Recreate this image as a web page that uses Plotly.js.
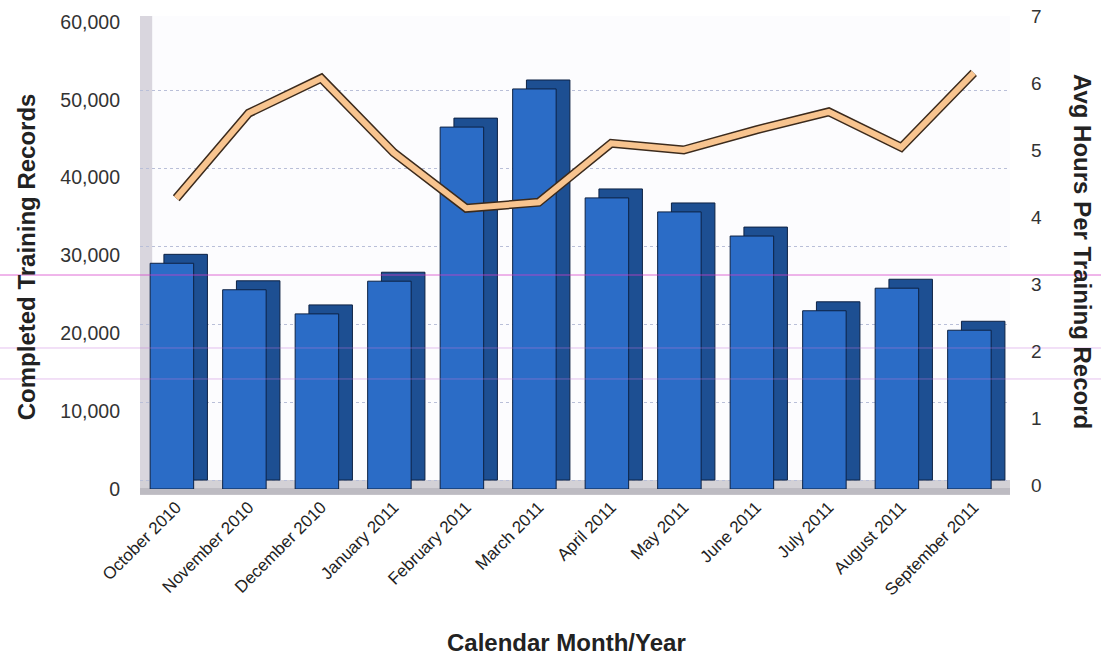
<!DOCTYPE html>
<html>
<head>
<meta charset="utf-8">
<script src="https://cdn.plot.ly/plotly-3.0.1.min.js"></script>
<style>html,body{margin:0;padding:0;background:#fff;}#chart{width:1101px;height:658px;}</style>
</head>
<body>
<div id="chart"></div>
<script>
// ---- data ----
const months = ["October 2010","November 2010","December 2010","January 2011","February 2011","March 2011",
                "April 2011","May 2011","June 2011","July 2011","August 2011","September 2011"];
const completedRecords = [29000,25600,22500,26700,46500,51400,37400,35600,32500,22900,25800,20400];
const avgHours = [4.28,5.55,6.07,4.96,4.13,4.22,5.10,5.00,5.30,5.57,5.04,6.15];
const leftTicks = [0,10000,20000,30000,40000,50000,60000];
const leftTickText = ["0","10,000","20,000","30,000","40,000","50,000","60,000"];
const rightTicks = [0,1,2,3,4,5,6,7];

const FONT = "'Liberation Sans', Arial, sans-serif";

const traces = [
  // depth (side/top) of the 3D bars — drawn first (bottom layer), on the back-wall axis
  {type:'bar', x:months, y:completedRecords, xaxis:'x', yaxis:'y', offset:-0.17, width:0.6,
   marker:{color:'#1d4f92', line:{color:'#0d2244', width:1}}, hoverinfo:'skip', showlegend:false},
  // front face of bars
  {type:'bar', x:months, y:completedRecords, xaxis:'x', yaxis:'y2', offset:-0.36, width:0.6,
   marker:{color:'#2b6cc6', line:{color:'#0d2244', width:1}}, name:'Completed Training Records', showlegend:false},
  // ribbon outline
  {type:'scatter', mode:'lines', x:months, y:avgHours, xaxis:'x', yaxis:'y3',
   line:{color:'#3b2a1c', width:9}, hoverinfo:'skip', showlegend:false},
  // ribbon fill
  {type:'scatter', mode:'lines', x:months, y:avgHours, xaxis:'x', yaxis:'y3',
   line:{color:'#f8c48f', width:6}, name:'Avg Hours Per Training Record', showlegend:false}
];

const pinkLines = [0.4524, 0.2981, 0.2326];
const shapes = [
  // left wall
  {type:'rect', xref:'paper', yref:'paper', x0:0, x1:0.014, y0:0.018, y1:1.0, fillcolor:'#d9d6de', line:{width:0}, layer:'below'},
  // floor
  {type:'rect', xref:'paper', yref:'paper', x0:0, x1:1.0, y0:-0.012, y1:0.019, fillcolor:'#d3d1d6', line:{width:0}, layer:'below'},
  {type:'rect', xref:'paper', yref:'paper', x0:0, x1:1.0, y0:-0.012, y1:0.002, fillcolor:'#bdbbc2', line:{width:0}, layer:'below'}
];
pinkLines.forEach((p,i)=>shapes.push({type:'line', xref:'paper', yref:'paper', x0:-0.161, x1:1.105, y0:p, y1:p,
  line:{color: i===0 ? 'rgba(214,60,200,0.75)' : 'rgba(200,120,220,0.45)', width:1}, layer:'above'}));

const layout = {
  width:1101, height:658,
  margin:{l:140, r:91, t:16, b:169},
  paper_bgcolor:'#ffffff', plot_bgcolor:'#fcfcfe',
  showlegend:false,
  barmode:'overlay',
  font:{family:FONT, color:'#333'},
  xaxis:{type:'category', tickangle:-45, tickfont:{size:17, color:'#222'},
         showgrid:false, zeroline:false, showline:false, ticks:'', ticklabelstandoff:4},
  // back-wall axis (shifted up ~9px): carries the depth faces and the dotted grid
  yaxis:{range:[-1150,59621], tickvals:leftTicks, showticklabels:false, ticks:'',
         showgrid:true, gridcolor:'#b9bfd8', griddash:'dot', gridwidth:1, zeroline:false, showline:false},
  // visible left axis for the bar values
  yaxis2:{range:[0,60771], overlaying:'y', side:'left', tickvals:leftTicks, ticktext:leftTickText,
          tickfont:{size:19.5, color:'#333'},
          showgrid:false, zeroline:false, showline:false, ticks:'', ticklabelstandoff:19},
  yaxis3:{range:[-0.06,7.0], tickvals:rightTicks, overlaying:'y', side:'right', tickfont:{size:19, color:'#333'},
          showgrid:false, zeroline:false, showline:false, ticks:'', ticklabelstandoff:20},
  shapes:shapes,
  annotations:[
    {text:'<b>Completed Training Records</b>', xref:'paper', yref:'paper', x:-0.131, y:0.49, textangle:-90,
     showarrow:false, font:{size:24, color:'#222'}, xanchor:'center', yanchor:'middle'},
    {text:'<b>Avg Hours Per Training Record</b>', xref:'paper', yref:'paper', x:1.084, y:0.503, textangle:90,
     showarrow:false, font:{size:24, color:'#222'}, xanchor:'center', yanchor:'middle'},
    {text:'<b>Calendar Month/Year</b>', xref:'paper', yref:'paper', x:0.49, y:-0.325,
     showarrow:false, font:{size:24, color:'#222'}, xanchor:'center', yanchor:'middle'}
  ]
};

Plotly.newPlot('chart', traces, layout, {displayModeBar:false, staticPlot:true});
</script>
</body>
</html>
